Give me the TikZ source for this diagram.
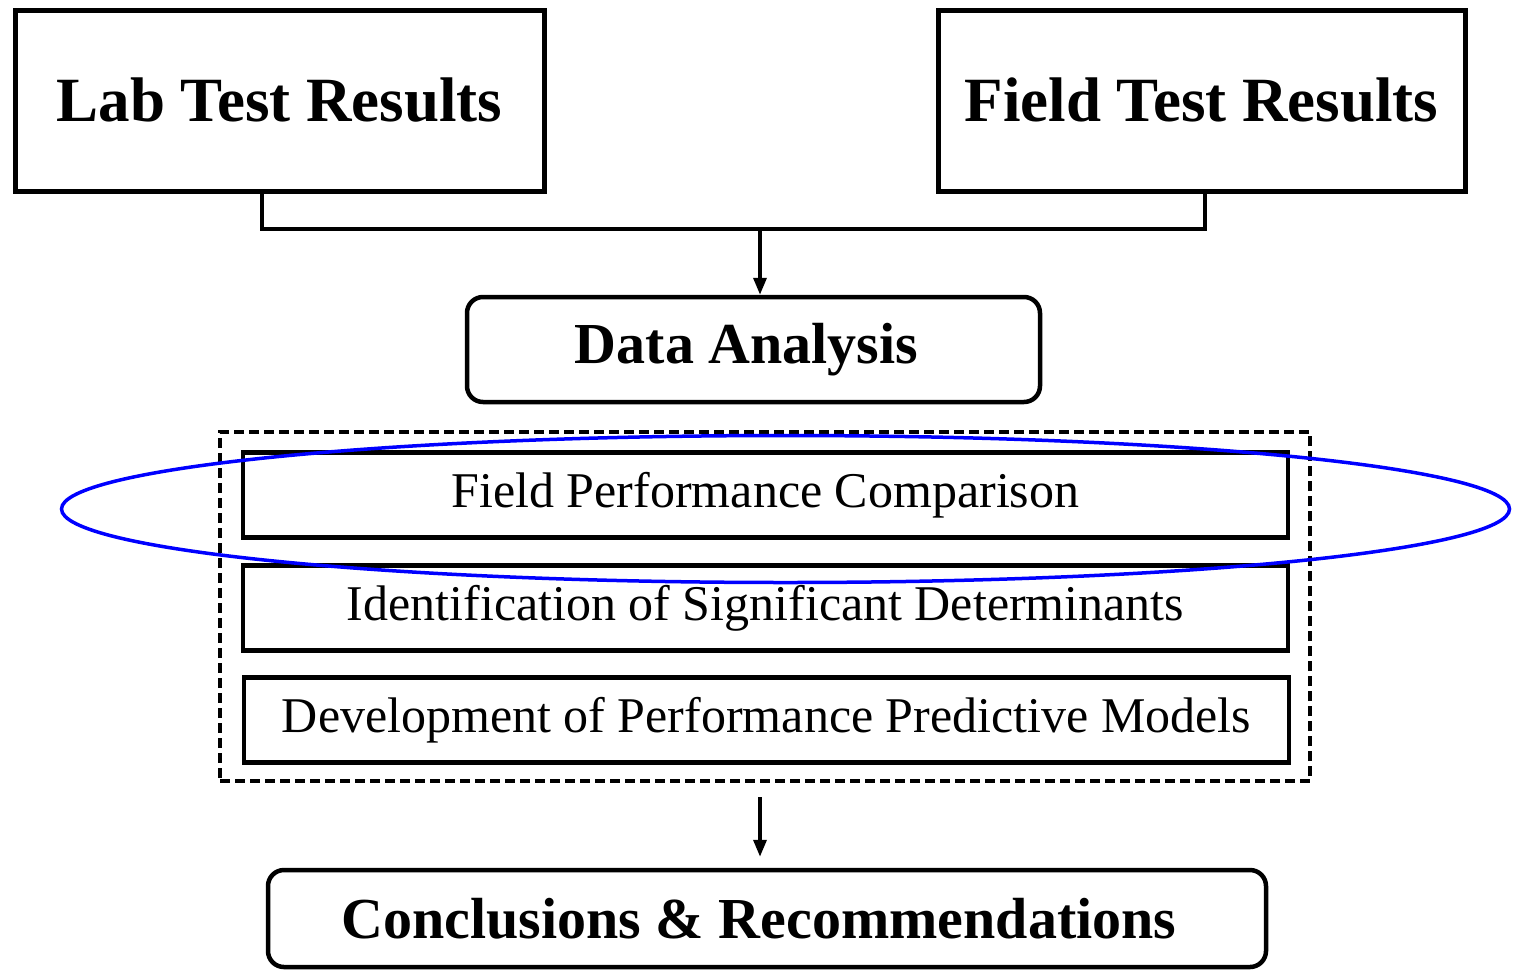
\documentclass[tikz,border=0pt]{standalone}
\usepackage{fontspec}
\setmainfont{Liberation Serif}
\usetikzlibrary{arrows.meta}
\begin{document}
\begin{tikzpicture}[x=1pt,y=-1pt,
  topbox/.style={draw,line width=5pt,inner sep=0pt,font=\fontsize{63}{70}\selectfont\bfseries},
  midbox/.style={draw,line width=4.5pt,rounded corners=16pt,inner sep=0pt,font=\fontsize{58}{64}\selectfont\bfseries},
  taskbox/.style={draw,line width=4.5pt,inner sep=0pt,minimum width=1045pt,minimum height=85pt,font=\fontsize{50}{56}\selectfont},
  groupbox/.style={draw,line width=4pt,dash pattern=on 10pt off 5pt,inner sep=0pt},
  link/.style={line width=4.5pt},
  arr/.style={line width=3.5pt,-{Triangle[length=17pt,width=13pt]}},
  hl/.style={draw=blue,line width=3.5pt}]
\useasboundingbox (0,0) rectangle (1513,970);
\node[topbox,minimum width=529pt,minimum height=181pt] (lab) at (279.5,100.5) {Lab Test Results};
\node[topbox,minimum width=527pt,minimum height=181pt] (field) at (1201.5,100.5) {Field Test Results};
\node[midbox,minimum width=573pt,minimum height=105pt] (da) at (753.5,349.5) {Data Analysis\kern14pt};
\node[groupbox,minimum width=1090pt,minimum height=349pt] (grp) at (765,606.5) {};
\node[taskbox] (t1) at (765.5,495) {Field Performance Comparison};
\node[taskbox] (t2) at (765.5,608) {Identification of Significant Determinants};
\node[taskbox] (t3) at (766.5,720) {Development of Performance Predictive Models};
\node[midbox,minimum width=998pt,minimum height=97pt] (cr) at (767,918.5) {Conclusions \& Recommendations\kern16pt};
\coordinate (lx) at (262,229);
\coordinate (fx) at (1205,229);
\coordinate (j) at (760,229);
\coordinate (a2) at (760,797);
\draw[link] (lab.south -| lx) -- (lx) -- (fx) -- (field.south -| fx);
\draw[arr] (j) -- (da.north -| j);
\draw[arr,shorten >=11pt] (a2) -- (cr.north -| a2);
\draw[hl] (785.5,509) ellipse [x radius=724, y radius=73.5];
\end{tikzpicture}
\end{document}
